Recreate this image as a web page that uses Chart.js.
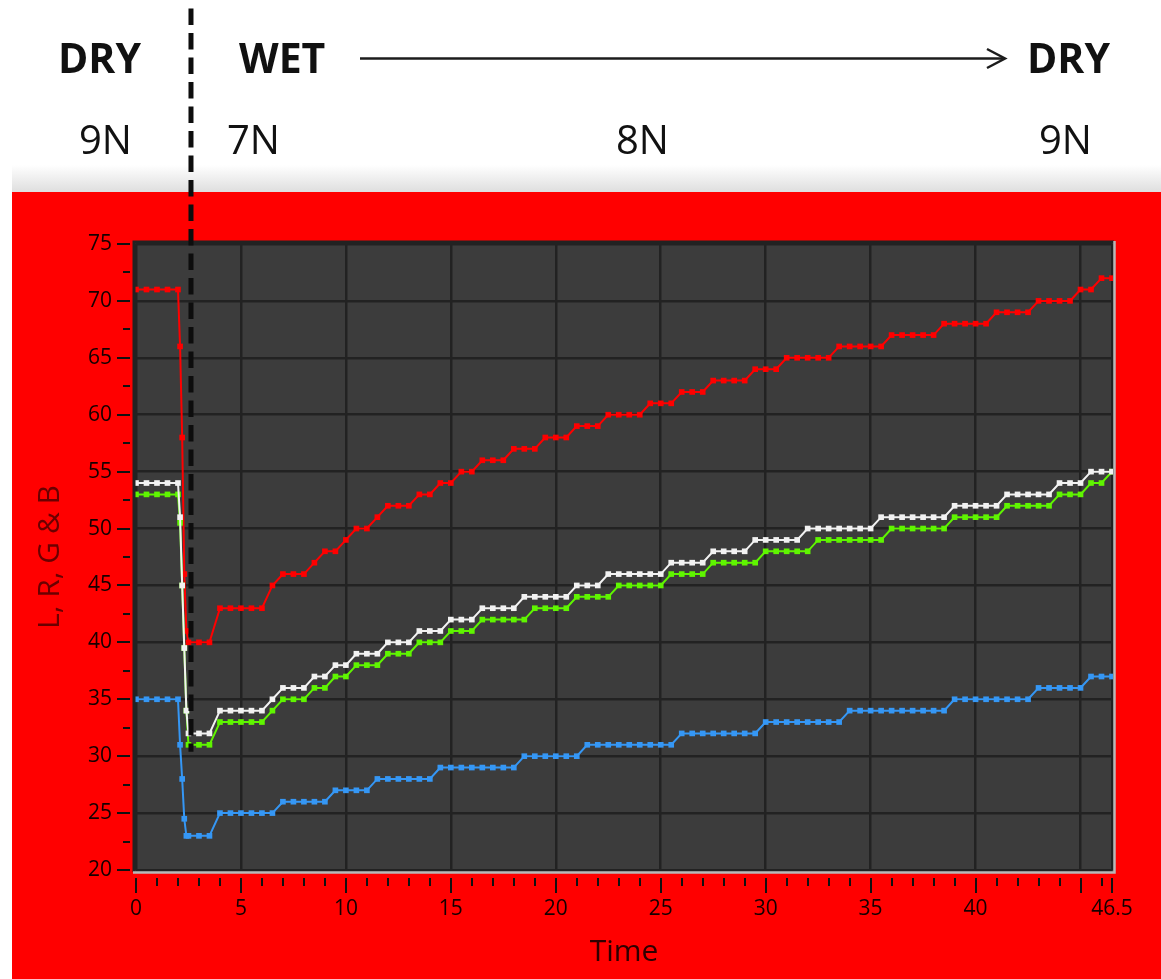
<!DOCTYPE html>
<html><head><meta charset="utf-8">
<script src="https://cdn.jsdelivr.net/npm/chart.js@4.4.1/dist/chart.umd.min.js"></script>
<style>
html,body{margin:0;padding:0;background:#fff;}
#wrap{position:relative;width:1161px;height:979px;overflow:hidden;}
#c{position:absolute;left:0;top:0;}
#hdr{position:absolute;left:0;top:0;pointer-events:none;}
</style></head><body>
<div id="wrap">
<canvas id="c" width="1161" height="979"></canvas>
<svg id="hdr" width="1161" height="190" xmlns="http://www.w3.org/2000/svg">
  <g font-family="'Open Sans', sans-serif" fill="#111">
    <text x="58" y="73" font-size="41" font-weight="700">DRY</text>
    <text x="239" y="73" font-size="41" font-weight="700">WET</text>
    <text x="1027" y="73" font-size="41" font-weight="700">DRY</text>
    <text x="79" y="154" font-size="40">9N</text>
    <text x="227" y="154" font-size="40">7N</text>
    <text x="616" y="154" font-size="40">8N</text>
    <text x="1039" y="154" font-size="40">9N</text>
  </g>
  <line x1="360" y1="58.5" x2="1004" y2="58.5" stroke="#1c1c1c" stroke-width="2.5"/>
  <polyline points="987,49 1005,58.5 987,68" fill="none" stroke="#1c1c1c" stroke-width="2.5"/>
</svg>
</div>
<script>
// ---- data ----
const time = [0,0.5,1,1.5,2,2.1,2.2,2.3,2.4,
  2.5,3,3.5,4,4.5,5,5.5,6,6.5,7,7.5,8,8.5,9,9.5,10,
  10.5,11,11.5,12,12.5,13,13.5,14,14.5,15,15.5,16,16.5,17,17.5,18,
  18.5,19,19.5,20,20.5,21,21.5,22,22.5,23,23.5,24,24.5,25,25.5,26,
  26.5,27,27.5,28,28.5,29,29.5,30,30.5,31,31.5,32,32.5,33,33.5,34,
  34.5,35,35.5,36,36.5,37,37.5,38,38.5,39,39.5,40,40.5,41,41.5,42,
  42.5,43,43.5,44,44.5,45,45.5,46,46.5];

const seriesR = [71,71,71,71,71,66,58,46,41,
  40,40,40,43,43,43,43,43,45,46,46,46,47,48,48,49,
  50,50,51,52,52,52,53,53,54,54,55,55,56,56,56,57,
  57,57,58,58,58,59,59,59,60,60,60,60,61,61,61,62,
  62,62,63,63,63,63,64,64,64,65,65,65,65,65,66,66,
  66,66,66,67,67,67,67,67,68,68,68,68,68,69,69,69,
  69,70,70,70,70,71,71,72,72];

const seriesL = [54,54,54,54,54,51,45,39.5,34,
  32,32,32,34,34,34,34,34,35,36,36,36,37,37,38,38,
  39,39,39,40,40,40,41,41,41,42,42,42,43,43,43,43,
  44,44,44,44,44,45,45,45,46,46,46,46,46,46,47,47,
  47,47,48,48,48,48,49,49,49,49,49,50,50,50,50,50,
  50,50,51,51,51,51,51,51,51,52,52,52,52,52,53,53,
  53,53,53,54,54,54,55,55,55];

const seriesG = [53,53,53,53,53,50.5,45,39.5,34,
  31,31,31,33,33,33,33,33,34,35,35,35,36,36,37,37,
  38,38,38,39,39,39,40,40,40,41,41,41,42,42,42,42,
  42,43,43,43,43,44,44,44,44,45,45,45,45,45,46,46,
  46,46,47,47,47,47,47,48,48,48,48,48,49,49,49,49,
  49,49,49,50,50,50,50,50,50,51,51,51,51,51,52,52,
  52,52,52,53,53,53,54,54,55];

const seriesB = [35,35,35,35,35,31,28,24.5,23,
  23,23,23,25,25,25,25,25,25,26,26,26,26,26,27,27,
  27,27,28,28,28,28,28,28,29,29,29,29,29,29,29,29,
  30,30,30,30,30,30,31,31,31,31,31,31,31,31,31,32,
  32,32,32,32,32,32,32,33,33,33,33,33,33,33,33,34,
  34,34,34,34,34,34,34,34,34,35,35,35,35,35,35,35,
  35,36,36,36,36,36,37,37,37];

const xMajorTicks = [0,5,10,15,20,25,30,35,40,45,46.5];
const xHiddenLabels = [45];
const yMin = 20, yMax = 75, yStep = 5;
const dividerTime = 2.62;      // dashed DRY/WET divider
const dividerBottom = 30.4;    // value where the divider ends

function pts(vals){ return time.map((t,i)=>({x:t,y:vals[i]})); }

function ds(label, vals, color, order){
  return {label, data: pts(vals), borderColor: color, backgroundColor: color,
    pointBackgroundColor: color, pointBorderColor: color, borderWidth: 2,
    pointStyle: 'rect', pointRadius: 4, pointHoverRadius: 4, pointBorderWidth: 0,
    tension: 0, order, clip: {left: 3, top: 3, right: 1, bottom: 3}};
}

const framePlugin = {
  id: 'frame',
  beforeDraw(chart){
    const {ctx, chartArea: a, width, height} = chart;
    ctx.save();
    ctx.fillStyle = '#ffffff'; ctx.fillRect(0,0,width,height);
    const g = ctx.createLinearGradient(0,165,0,192);
    g.addColorStop(0,'rgba(190,190,190,0)');
    g.addColorStop(1,'rgba(190,190,190,0.5)');
    ctx.fillStyle = g; ctx.fillRect(12,165,width-12,27);
    ctx.fillStyle = '#ff0000'; ctx.fillRect(12,192,width-12,height-192);
    ctx.fillStyle = '#3c3c3c'; ctx.fillRect(a.left-2,a.top-2,a.right-a.left+4,a.bottom-a.top+4);
    ctx.restore();
  },
  afterDatasetsDraw(chart){
    const {ctx, chartArea: a} = chart;
    ctx.save();
    ctx.lineWidth = 3; ctx.strokeStyle = '#222';
    ctx.beginPath();
    ctx.moveTo(a.left-2, a.bottom+2); ctx.lineTo(a.left-2, a.top-2); ctx.lineTo(a.right+2, a.top-2);
    ctx.stroke();
    ctx.lineWidth = 2.5; ctx.strokeStyle = '#b8b8b8';
    ctx.beginPath();
    ctx.moveTo(a.left-3, a.bottom+2.5); ctx.lineTo(a.right+2.5, a.bottom+2.5); ctx.lineTo(a.right+2.5, a.top-3);
    ctx.stroke();
    ctx.restore();
  },
  afterDraw(chart){
    const {ctx, chartArea: a, scales} = chart;
    const xs = scales.x, ys = scales.y;
    ctx.save();
    ctx.strokeStyle = '#111'; ctx.lineWidth = 2;
    ctx.beginPath();
    for (let v = yMin; v <= yMax; v += yStep/2){
      const y = Math.round(ys.getPixelForValue(v));
      const major = (v % yStep) === 0;
      ctx.moveTo(major ? a.left-19 : a.left-13, y); ctx.lineTo(a.left-6, y);
    }
    for (let v = 0; v <= 46; v += 1){
      if (v % 5 === 0) continue;
      const x = Math.round(xs.getPixelForValue(v));
      ctx.moveTo(x, a.bottom+8); ctx.lineTo(x, a.bottom+16);
    }
    xMajorTicks.forEach(v => {
      const x = Math.round(xs.getPixelForValue(v));
      ctx.moveTo(x, a.bottom+8); ctx.lineTo(x, a.bottom+23);
    });
    ctx.stroke();
    // dashed divider
    const dx = xs.getPixelForValue(dividerTime);
    ctx.strokeStyle = '#0d0d0d'; ctx.lineWidth = 5;
    ctx.setLineDash([16.5, 8]);
    ctx.beginPath(); ctx.moveTo(dx, 8.5); ctx.lineTo(dx, ys.getPixelForValue(dividerBottom)); ctx.stroke();
    ctx.restore();
  }
};

function build(){
  new Chart(document.getElementById('c'), {
    type: 'line',
    data: { datasets: [
      ds('L', seriesL, '#f2f2f2', 0),
      ds('G', seriesG, '#5ff500', 1),
      ds('R', seriesR, '#ff0000', 2),
      ds('B', seriesB, '#3597f5', 3)
    ]},
    options: {
      responsive: false, animation: false, devicePixelRatio: 1, events: [],
      layout: { padding: { left: 12, top: 244, right: 49, bottom: 0 } },
      plugins: { legend: { display: false }, tooltip: { enabled: false } },
      scales: {
        x: {
          type: 'linear', min: 0, max: 46.5,
          afterBuildTicks: s => { s.ticks = xMajorTicks.map(v => ({value: v})); },
          afterFit: s => { s.height = 109; },
          grid: { color: '#222', lineWidth: 2.5, drawTicks: false },
          border: { display: false },
          ticks: { autoSkip: false, maxRotation: 0, padding: 26, color: '#150000',
            font: { family: "'Open Sans', sans-serif", size: 21 },
            callback: v => xHiddenLabels.includes(v) ? '' : String(v) },
          title: { display: true, text: 'Time', color: '#2e0000',
            font: { family: "'Open Sans', sans-serif", size: 30 }, padding: { top: 0, bottom: 9 } }
        },
        y: {
          type: 'linear', min: yMin, max: yMax,
          afterFit: s => { s.width = 124; },
          grid: { color: '#222', lineWidth: 2.5, drawTicks: false },
          border: { display: false },
          ticks: { stepSize: yStep, padding: 24, color: '#150000',
            font: { family: "'Open Sans', sans-serif", size: 21 } },
          title: { display: true, text: 'L, R, G & B', color: '#6a0000',
            font: { family: "'Open Sans', sans-serif", size: 30 }, padding: { top: 20, bottom: 0 } }
        }
      }
    },
    plugins: [framePlugin]
  });
}
if (document.fonts && document.fonts.load) {
  Promise.all([document.fonts.load('21px "Open Sans"'), document.fonts.load('30px "Open Sans"')])
    .then(build, build);
} else build();
</script>
</body></html>
